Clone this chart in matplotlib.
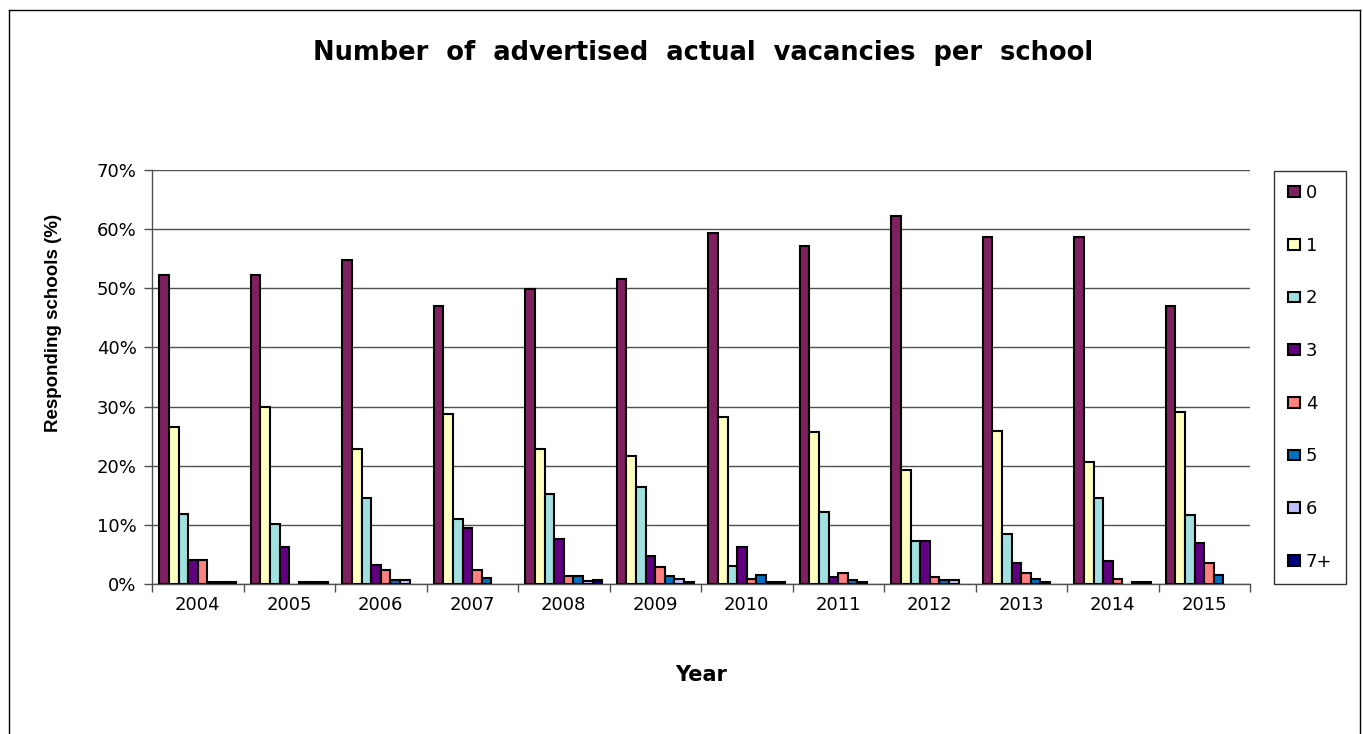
import matplotlib
matplotlib.use("Agg")
import matplotlib.pyplot as plt
from matplotlib.lines import Line2D
from matplotlib.ticker import FuncFormatter, FixedLocator, NullFormatter
import numpy as np

years = ["2004", "2005", "2006", "2007", "2008", "2009",
         "2010", "2011", "2012", "2013", "2014", "2015"]
vacancy_labels = ["0", "1", "2", "3", "4", "5", "6", "7+"]

# share of responding schools (%) per number of vacancies, one list per year column
v0 = [52.2, 52.2, 54.8, 47.0, 49.9, 51.5, 59.3, 57.2, 62.3, 58.7, 58.6, 47.0]
v1 = [26.6, 29.9, 22.8, 28.8, 22.8, 21.6, 28.3, 25.7, 19.3, 25.9, 20.6, 29.1]
v2 = [11.8, 10.1, 14.5, 11.0, 15.2, 16.4, 3.0, 12.1, 7.3, 8.4, 14.5, 11.6]
v3 = [4.0, 6.25, 3.2, 9.4, 7.6, 4.7, 6.25, 1.2, 7.3, 3.5, 3.9, 6.9]
v4 = [4.0, 0.0, 2.4, 2.4, 1.4, 2.8, 0.9, 1.8, 1.25, 1.9, 0.9, 3.5]
v5 = [0.4, 0.4, 0.6, 1.0, 1.4, 1.3, 1.5, 0.7, 0.7, 0.85, 0.0, 1.6]
v6 = [0.4, 0.4, 0.6, 0.0, 0.5, 0.8, 0.3, 0.4, 0.7, 0.4, 0.4, 0.0]
v7 = [0.4, 0.4, 0.0, 0.0, 0.6, 0.4, 0.4, 0.0, 0.0, 0.0, 0.4, 0.0]
series = [v0, v1, v2, v3, v4, v5, v6, v7]

colors = ["#7f2060", "#ffffc0", "#a0e0e0", "#600080",
          "#ff8080", "#0070c0", "#c0c0ff", "#000080"]

W, H = 1363, 734
fig = plt.figure(figsize=(W / 100, H / 100), dpi=100)
fig.patch.set_facecolor("white")

# outer chart frame (runs off the bottom of the picture)
fx0, fx1, fy1 = 8.5 / W, 1360 / W, 1 - 9.5 / H
for xs, ys in [([fx0, fx0], [-0.1, fy1]), ([fx0, fx1], [fy1, fy1]), ([fx1, fx1], [fy1, -0.1])]:
    fig.add_artist(Line2D(xs, ys, transform=fig.transFigure, color="black", lw=1))

ax = fig.add_axes([152 / W, 1 - 584 / H, 1098 / W, 414 / H])

x = np.arange(len(years))
w = 0.105
for j, (vals, c) in enumerate(zip(series, colors)):
    bars = ax.bar(x + (j - 3.5) * w, vals, width=w, color=c, edgecolor="black",
                  linewidth=1.5, label=vacancy_labels[j], zorder=3)
    # excel draws nothing for a zero value
    for b in bars:
        if b.get_height() == 0:
            b.set_visible(False)

ax.set_xlim(-0.5, len(years) - 0.5)
ax.set_ylim(0, 70)
ax.set_yticks(np.arange(0, 71, 10))
ax.yaxis.set_major_formatter(FuncFormatter(lambda v, p: f"{v:.0f}%"))
ax.yaxis.grid(True, color="#505050", lw=1, zorder=0)

ax.set_xticks(x)
ax.set_xticklabels(years)
ax.xaxis.set_minor_locator(FixedLocator(np.arange(-0.5, len(years), 1.0)))
ax.xaxis.set_minor_formatter(NullFormatter())
ax.tick_params(axis="x", which="major", length=0, pad=9, labelsize=13)
ax.tick_params(axis="x", which="minor", length=6, width=1, color="#505050")
ax.tick_params(axis="y", length=6, width=1, color="#505050", pad=5, labelsize=13)

for s in ["top", "right"]:
    ax.spines[s].set_visible(False)
for s in ["left", "bottom"]:
    ax.spines[s].set_color("#505050")
    ax.spines[s].set_linewidth(1)

ax.set_ylabel("Responding schools (%)", fontsize=13.5, fontweight="bold",
              family="Liberation Sans")
ax.yaxis.set_label_coords(-0.082, 0.63)
ax.set_xlabel("Year", fontsize=15, fontweight="bold")
ax.xaxis.set_label_coords(0.5, -0.196)

fig.text(703 / W, 1 - 53 / H, "Number  of  advertised  actual  vacancies  per  school",
         ha="center", va="center", fontsize=18.5, fontweight="bold")

leg = fig.legend(loc="upper left", bbox_to_anchor=(1274 / W, 1 - 170.5 / H),
                 frameon=True, fancybox=False, fontsize=13, labelspacing=1.92,
                 handlelength=0.7, handleheight=0.55, handletextpad=0.3,
                 borderpad=0.75, borderaxespad=0)
leg.get_frame().set_edgecolor("black")
leg.get_frame().set_linewidth(1)

fig.savefig("out.png", dpi=100)
